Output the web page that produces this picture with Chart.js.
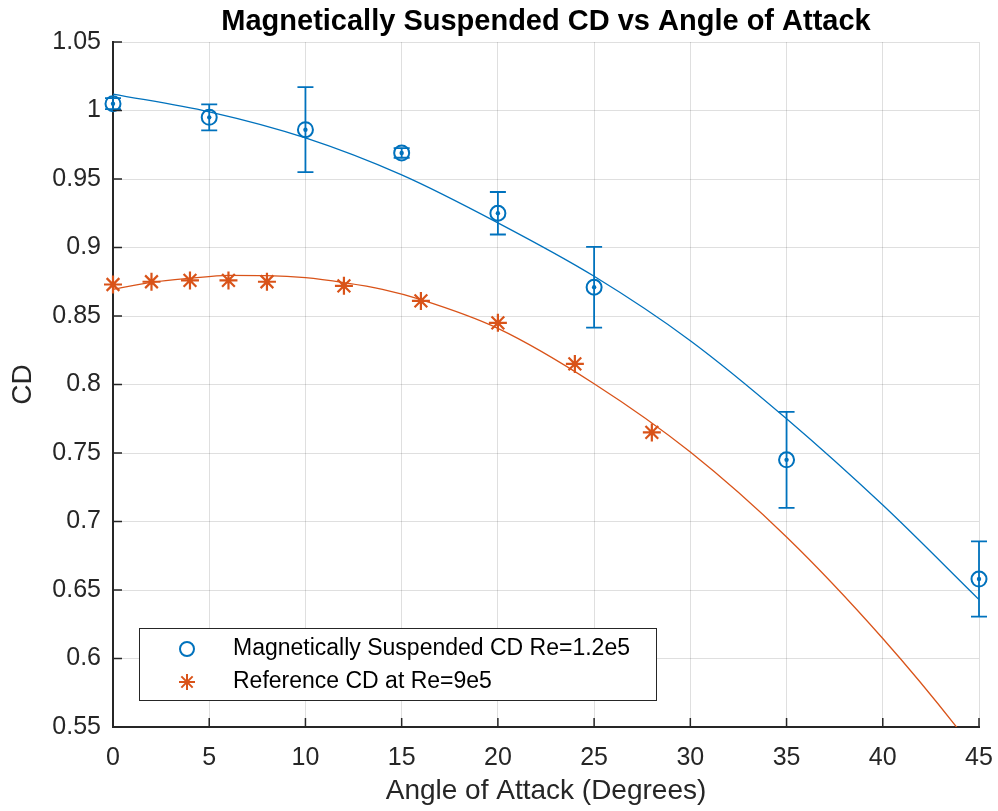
<!DOCTYPE html>
<html>
<head>
<meta charset="utf-8">
<title>Magnetically Suspended CD vs Angle of Attack</title>
<script src="https://cdn.jsdelivr.net/npm/chart.js@4.4.1/dist/chart.umd.min.js"></script>
<style>
  html, body { margin: 0; padding: 0; background: #fff; }
  #cdChart { display: block; }
</style>
</head>
<body>
<canvas id="cdChart" width="998" height="811"></canvas>
<script>
const aoa = [0, 5, 10, 15, 20, 25, 35, 45];
const cdMag = [1.005, 0.995, 0.986, 0.969, 0.925, 0.871, 0.745, 0.658];
const cdErr = [0.004, 0.0095, 0.031, 0.0035, 0.0155, 0.0295, 0.035, 0.0275];

const aoaRef = [0, 2, 4, 6, 8, 12, 16, 20, 24, 28];
const cdRef = [0.873, 0.875, 0.876, 0.876, 0.875, 0.872, 0.861, 0.845, 0.815, 0.765];

// Fit curves
const fitMagX = [0, 5, 10, 15, 20, 25, 30, 35, 40, 45];
const fitMagY = [1.012, 0.999, 0.980, 0.953, 0.918, 0.879, 0.832, 0.775, 0.712, 0.643];
const fitRefX = [0, 2, 4, 6, 8, 10, 12, 14, 16, 20, 25, 30, 35, 40, 44, 45];
const fitRefY = [0.8695, 0.8745, 0.8775, 0.8797, 0.8795, 0.878, 0.8744, 0.8695, 0.862, 0.841, 0.8006, 0.7507, 0.6887, 0.6146, 0.547, 0.528];

const chartTitle = 'Magnetically Suspended CD vs Angle of Attack';
const legendLabels = ['Magnetically Suspended CD Re=1.2e5', 'Reference CD at Re=9e5'];

const AXIS_COLOR = '#262626';
const GRID_COLOR = 'rgba(38,38,38,0.15)';
const BLUE = '#0072BD';
const ORANGE = '#D95319';
const FONT = "'Liberation Sans', Arial, Helvetica, sans-serif";

function toXY(xs, ys) {
    return xs.map((x, i) => ({ x: x, y: ys[i] }));
}

// Vertical error bars with caps
const errorBarPlugin = {
    id: 'errorBars',
    afterDatasetsDraw(chart) {
        const { ctx, scales: { x, y } } = chart;
        ctx.save();
        ctx.strokeStyle = BLUE;
        ctx.lineWidth = 1.8;
        aoa.forEach((a, i) => {
            const px = x.getPixelForValue(a);
            const top = y.getPixelForValue(cdMag[i] + cdErr[i]);
            const bot = y.getPixelForValue(cdMag[i] - cdErr[i]);
            ctx.beginPath();
            ctx.moveTo(px, top); ctx.lineTo(px, bot);
            ctx.moveTo(px - 8, top); ctx.lineTo(px + 8, top);
            ctx.moveTo(px - 8, bot); ctx.lineTo(px + 8, bot);
            ctx.stroke();
        });
        ctx.restore();
    }
};

// MATLAB style ticks pointing into the axes, plus the title centred over the axes
const axesDecorPlugin = {
    id: 'axesDecor',
    afterDraw(chart) {
        const { ctx, chartArea, scales: { x, y } } = chart;
        ctx.save();
        ctx.strokeStyle = AXIS_COLOR;
        ctx.lineWidth = 1.5;
        ctx.beginPath();
        x.ticks.forEach(t => {
            const px = x.getPixelForValue(t.value);
            ctx.moveTo(px, chartArea.bottom);
            ctx.lineTo(px, chartArea.bottom - 9);
        });
        y.ticks.forEach(t => {
            const py = y.getPixelForValue(t.value);
            ctx.moveTo(chartArea.left, py);
            ctx.lineTo(chartArea.left + 9, py);
        });
        ctx.stroke();

        ctx.fillStyle = '#000';
        ctx.font = 'bold 29px ' + FONT;
        ctx.textAlign = 'center';
        ctx.textBaseline = 'middle';
        ctx.fillText(chartTitle, (chartArea.left + chartArea.right) / 2, 22);
        ctx.restore();
    }
};

// Boxed legend in the lower-left corner of the axes
const boxLegendPlugin = {
    id: 'boxLegend',
    afterDraw(chart) {
        const { ctx, chartArea } = chart;
        const left = chartArea.left + 26;
        const right = left + 517;
        const bottom = chartArea.bottom - 27;
        const top = bottom - 72;
        ctx.save();
        ctx.fillStyle = '#fff';
        ctx.fillRect(left, top, right - left, bottom - top);
        ctx.strokeStyle = AXIS_COLOR;
        ctx.lineWidth = 1;
        ctx.strokeRect(left + 0.5, top + 0.5, right - left, bottom - top);

        const rows = [top + 21, top + 54];
        const markerX = left + 48;
        // circle marker
        ctx.strokeStyle = BLUE;
        ctx.lineWidth = 2;
        ctx.beginPath();
        ctx.arc(markerX, rows[0], 7, 0, Math.PI * 2);
        ctx.stroke();
        // asterisk marker
        ctx.strokeStyle = ORANGE;
        ctx.beginPath();
        for (let k = 0; k < 4; k++) {
            const a = k * Math.PI / 4;
            ctx.moveTo(markerX - 8 * Math.cos(a), rows[1] - 8 * Math.sin(a));
            ctx.lineTo(markerX + 8 * Math.cos(a), rows[1] + 8 * Math.sin(a));
        }
        ctx.stroke();

        ctx.fillStyle = '#000';
        ctx.font = '23px ' + FONT;
        ctx.textBaseline = 'middle';
        ctx.textAlign = 'left';
        legendLabels.forEach((txt, i) => ctx.fillText(txt, left + 94, rows[i]));
        ctx.restore();
    }
};

const ctx = document.getElementById('cdChart').getContext('2d');

new Chart(ctx, {
    type: 'scatter',
    data: {
        datasets: [
            {
                label: 'Magnetically Suspended CD fit',
                data: toXY(fitMagX, fitMagY),
                showLine: true,
                borderColor: BLUE,
                borderWidth: 1.3,
                pointRadius: 0,
                cubicInterpolationMode: 'monotone',
                clip: 0,
                order: 3
            },
            {
                label: 'Reference CD fit',
                data: toXY(fitRefX, fitRefY),
                showLine: true,
                borderColor: ORANGE,
                borderWidth: 1.3,
                pointRadius: 0,
                cubicInterpolationMode: 'monotone',
                clip: 0,
                order: 4
            },
            {
                label: legendLabels[0],
                data: toXY(aoa, cdMag),
                pointStyle: 'circle',
                pointRadius: 7.5,
                borderWidth: 2,
                borderColor: BLUE,
                backgroundColor: 'rgba(0,0,0,0)',
                clip: false,
                order: 1
            },
            {
                label: 'centre dots',
                data: toXY(aoa, cdMag),
                pointStyle: 'circle',
                pointRadius: 2.2,
                borderWidth: 0,
                backgroundColor: BLUE,
                clip: false,
                order: 0
            },
            {
                label: legendLabels[1],
                data: toXY(aoaRef, cdRef),
                pointStyle: 'star',
                pointRadius: 9,
                borderWidth: 2.2,
                borderColor: ORANGE,
                backgroundColor: ORANGE,
                clip: false,
                order: 2
            }
        ]
    },
    options: {
        responsive: false,
        animation: false,
        devicePixelRatio: 1,
        layout: { padding: { left: 0, right: 19, top: 42, bottom: 0 } },
        plugins: {
            legend: { display: false },
            tooltip: { enabled: false },
            title: { display: false }
        },
        scales: {
            x: {
                type: 'linear',
                min: 0,
                max: 45,
                afterFit: s => { s.height = 84; s.paddingLeft = 0; s.paddingRight = 0; },
                ticks: {
                    stepSize: 5,
                    color: AXIS_COLOR,
                    padding: 16,
                    font: { family: FONT, size: 25 }
                },
                grid: { color: GRID_COLOR, drawTicks: false },
                border: { color: AXIS_COLOR, width: 2 },
                title: {
                    display: true,
                    text: 'Angle of Attack (Degrees)',
                    color: AXIS_COLOR,
                    font: { family: FONT, size: 28 },
                    padding: { top: 0, bottom: 3 }
                }
            },
            y: {
                type: 'linear',
                min: 0.55,
                max: 1.05,
                afterFit: s => { s.width = 113; s.paddingTop = 0; s.paddingBottom = 0; },
                ticks: {
                    stepSize: 0.05,
                    color: AXIS_COLOR,
                    padding: 12,
                    font: { family: FONT, size: 25 },
                    callback: v => String(Number(v.toFixed(2)))
                },
                grid: { color: GRID_COLOR, drawTicks: false },
                border: { color: AXIS_COLOR, width: 2 },
                title: {
                    display: true,
                    text: 'CD',
                    color: AXIS_COLOR,
                    font: { family: FONT, size: 28 },
                    padding: { top: 6, bottom: 0 }
                }
            }
        }
    },
    plugins: [errorBarPlugin, axesDecorPlugin, boxLegendPlugin]
});
</script>
</body>
</html>
